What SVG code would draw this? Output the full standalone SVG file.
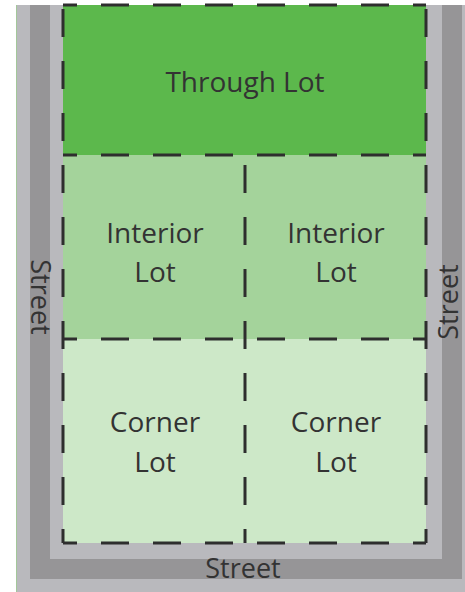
<svg xmlns="http://www.w3.org/2000/svg" width="465" height="592" viewBox="0 0 465 592">
  <style>
    .label { font-family: "Open Sans", "Noto Sans", sans-serif; font-size: 28px; fill: #333333; text-anchor: middle; }
    .street { font-family: "Open Sans", "Noto Sans", sans-serif; font-size: 27px; fill: #333333; text-anchor: middle; }
    .lot-edge { fill: none; stroke: #2e2e2e; stroke-width: 3; stroke-dasharray: 28 24; stroke-dashoffset: 14; }
  </style>
  <rect width="465" height="592" fill="#ffffff"/>

  <!-- Streets: sidewalk, roadway, sidewalk -->
  <g id="streets">
    <rect x="16" y="5" width="449" height="587" fill="#b9b9bd"/>
    <path d="M30 5 H462 V579 H30 Z" fill="#969597"/>
    <path d="M50 5 H442 V559 H50 Z" fill="#b9b9bd"/>
    <line x1="16.5" y1="5" x2="16.5" y2="592" stroke="#a3c79a" stroke-width="1"/>
  </g>

  <!-- Lot fills -->
  <g id="through-lot">
    <rect x="63" y="5" width="363" height="150" fill="#5cb84c"/>
    <text class="label" x="245" y="92">Through Lot</text>
  </g>
  <g id="interior-lot-left">
    <rect x="63" y="155" width="182" height="184" fill="#a4d39b"/>
    <text class="label" x="155" y="243">Interior</text>
    <text class="label" x="155" y="282">Lot</text>
  </g>
  <g id="interior-lot-right">
    <rect x="245" y="155" width="181" height="184" fill="#a4d39b"/>
    <text class="label" x="336" y="243">Interior</text>
    <text class="label" x="336" y="282">Lot</text>
  </g>
  <g id="corner-lot-left">
    <rect x="63" y="339" width="182" height="204" fill="#cde8c8"/>
    <text class="label" x="155" y="432">Corner</text>
    <text class="label" x="155" y="472">Lot</text>
  </g>
  <g id="corner-lot-right">
    <rect x="245" y="339" width="181" height="204" fill="#cde8c8"/>
    <text class="label" x="336" y="432">Corner</text>
    <text class="label" x="336" y="472">Lot</text>
  </g>

  <!-- Dashed lot lines -->
  <g id="lot-lines">
    <path class="lot-edge" d="M63 543 V5"/>
    <path class="lot-edge" d="M426 543 V5"/>
    <path class="lot-edge" d="M63 5 H426"/>
    <path class="lot-edge" d="M63 543 H426"/>
    <path class="lot-edge" d="M63 155 H426"/>
    <path class="lot-edge" d="M63 339 H426"/>
    <path class="lot-edge" d="M245 543 V155"/>
  </g>

  <!-- Street names -->
  <g id="street-labels">
    <text class="street" x="243" y="578">Street</text>
    <text class="street" transform="translate(31 297) rotate(90)" x="0" y="0">Street</text>
    <text class="street" transform="translate(458 302) rotate(-90)" x="0" y="0">Street</text>
  </g>
</svg>
